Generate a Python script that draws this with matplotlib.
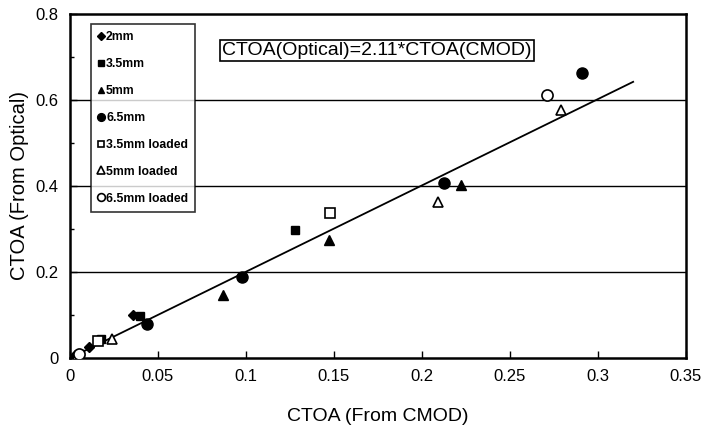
import matplotlib.pyplot as plt
from matplotlib.ticker import MultipleLocator

plt.rcParams['font.family'] = ['Liberation Sans', 'DejaVu Sans']

# data
x_2mm = [0.003, 0.011, 0.036]
y_2mm = [0.008, 0.026, 0.100]
x_35 = [0.006, 0.018, 0.040, 0.128]
y_35 = [0.010, 0.044, 0.098, 0.298]
x_5 = [0.005, 0.087, 0.147, 0.222]
y_5 = [0.008, 0.147, 0.274, 0.402]
x_65 = [0.044, 0.098, 0.2125, 0.291]
y_65 = [0.079, 0.188, 0.407, 0.663]
x_35L = [0.016, 0.148]
y_35L = [0.040, 0.337]
x_5L = [0.004, 0.024, 0.209, 0.279]
y_5L = [0.006, 0.044, 0.363, 0.577]
x_65L = [0.005, 0.271]
y_65L = [0.010, 0.612]

fit_x = [0.0, 0.32]
fit_y = [0.0, 0.642]

fig = plt.figure(figsize=(7.05, 4.32), dpi=100)
ax = fig.add_axes([0.099, 0.171, 0.874, 0.797])

# horizontal grid lines
for g in [0.2, 0.4, 0.6]:
    ax.axhline(g, color='black', linewidth=1.0, zorder=1)

ax.plot(fit_x, fit_y, color='black', linewidth=1.3, zorder=2)

ax.plot(x_2mm, y_2mm, 'D', color='black', markersize=5.5, label='2mm', zorder=3)
ax.plot(x_35, y_35, 's', color='black', markersize=6, label='3.5mm', zorder=3)
ax.plot(x_5, y_5, '^', color='black', markersize=6.5, label='5mm', zorder=3)
ax.plot(x_65, y_65, 'o', color='black', markersize=8, label='6.5mm', zorder=3)
ax.plot(x_35L, y_35L, 's', mfc='white', mec='black', markersize=6.5, mew=1.2,
        label='3.5mm loaded', zorder=3)
ax.plot(x_5L, y_5L, '^', mfc='white', mec='black', markersize=7.5, mew=1.2,
        label='5mm loaded', zorder=3)
ax.plot(x_65L, y_65L, 'o', mfc='white', mec='black', markersize=8, mew=1.2,
        label='6.5mm loaded', zorder=3)

ax.set_xlim(0, 0.35)
ax.set_ylim(0, 0.8)
ax.yaxis.set_minor_locator(MultipleLocator(0.1))
ax.set_xticks([0, 0.05, 0.1, 0.15, 0.2, 0.25, 0.3, 0.35])
ax.set_xticklabels(['0', '0.05', '0.1', '0.15', '0.2', '0.25', '0.3', '0.35'])
ax.set_yticks([0, 0.2, 0.4, 0.6, 0.8])
ax.set_yticklabels(['0', '0.2', '0.4', '0.6', '0.8'])
ax.tick_params(axis='both', which='major', direction='in', length=5, width=1,
               labelsize=12, pad=8)
ax.tick_params(axis='y', which='minor', direction='in', length=3, width=1)

for s in ax.spines.values():
    s.set_linewidth(1.8)

ax.set_xlabel('CTOA (From CMOD)', fontsize=14, labelpad=17)
ax.set_ylabel('CTOA (From Optical)', fontsize=14.5, labelpad=5)

ax.text(0.498, 0.893, 'CTOA(Optical)=2.11*CTOA(CMOD)', transform=ax.transAxes,
        fontsize=14, ha='center', va='center',
        bbox=dict(boxstyle='square,pad=0.12', fc='white', ec='black', lw=1.2))

leg = ax.legend(loc='upper left', bbox_to_anchor=(0.034, 0.971), borderaxespad=0,
                fontsize=8.8, frameon=True, fancybox=False, edgecolor='black',
                labelspacing=1.22, handlelength=0.4, handletextpad=0.25,
                borderpad=0.6, markerscale=0.7)
leg.get_frame().set_linewidth(1.2)
for t in leg.get_texts():
    t.set_fontweight('bold')

fig.savefig('out.png', dpi=100)
